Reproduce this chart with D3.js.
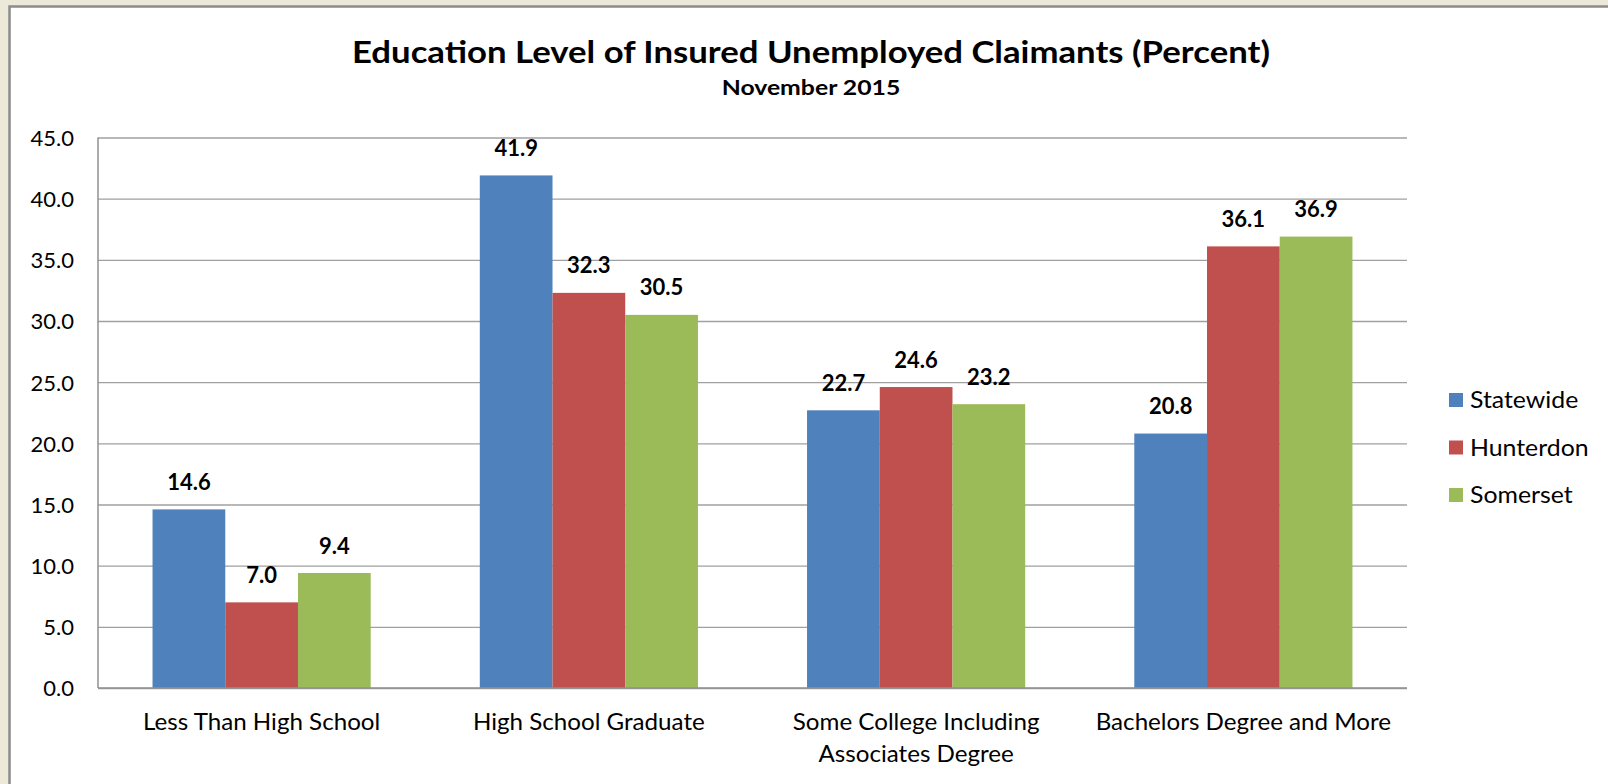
<!DOCTYPE html>
<html>
<head>
<meta charset="utf-8">
<script src="https://cdn.jsdelivr.net/npm/d3@7"></script>
<style>
  html, body { margin: 0; padding: 0; background: #ECE9D8; }
  svg { display: block; }
  text { font-family: Lato, "Open Sans", "Noto Sans", sans-serif; fill: #000; }
</style>
</head>
<body>
<script>
// Education level of insured unemployed claimants, November 2015 (percent)
const categories = [
  "Less Than High School",
  "High School Graduate",
  "Some College Including Associates Degree",
  "Bachelors Degree and More"
];
const seriesNames = ["Statewide", "Hunterdon", "Somerset"];
const statewide = [14.6, 41.9, 22.7, 20.8];
const hunterdon = [7.0, 32.3, 24.6, 36.1];
const somerset  = [9.4, 30.5, 23.2, 36.9];
const yTicks = [0, 5, 10, 15, 20, 25, 30, 35, 40, 45];
const seriesColors = ["#4F81BD", "#C0504D", "#9BBB59"];

const W = 1608, H = 784;
const plot = { left: 98, right: 1407, top: 137.5, bottom: 688 };

const series = [statewide, hunterdon, somerset];

const svg = d3.select("body").append("svg")
  .attr("width", W).attr("height", H);

// white chart sheet with its dark frame
svg.append("rect")
  .attr("x", 9.5).attr("y", 6.5)
  .attr("width", W + 10).attr("height", H + 10)
  .attr("fill", "#fff")
  .attr("stroke", "#8C8C8C").attr("stroke-width", 2.5);

// Places a text at (x, y) with a slight horizontal stretch for the wide lettering
function wideText(sel, x, y, sx) {
  return sel.append("text")
    .attr("transform", `translate(${x},${y}) scale(${sx},1)`);
}

// titles
const cx = 811;
wideText(svg, cx, 63, 1.12)
  .attr("text-anchor", "middle")
  .attr("font-size", 31).attr("font-weight", 700)
  .text("Education Level of Insured Unemployed Claimants (Percent)");
wideText(svg, cx, 95, 1.18)
  .attr("text-anchor", "middle")
  .attr("font-size", 21).attr("font-weight", 700)
  .text("November 2015");

// scales
const x0 = d3.scaleBand().domain(categories)
  .range([plot.left, plot.right]).paddingInner(0).paddingOuter(0);
// three bars per group with a 150% gap, split evenly on both sides
const barW = x0.bandwidth() / (seriesNames.length + 1.5);
const x1 = d3.scaleBand().domain(seriesNames)
  .range([0, barW * seriesNames.length]);
const groupOffset = (x0.bandwidth() - barW * seriesNames.length) / 2;

const y = d3.scaleLinear().domain([0, 45]).range([plot.bottom, plot.top]);

// gridlines and value axis labels
const yAxis = d3.axisLeft(y).tickValues(yTicks)
  .tickSize(-(plot.right - plot.left))
  .tickFormat(d => d.toFixed(1))
  .tickPadding(24);
const gy = svg.append("g")
  .attr("transform", `translate(${plot.left},0)`)
  .call(yAxis);
gy.select(".domain").remove();
gy.selectAll(".tick line").attr("stroke", "#A0A0A0").attr("stroke-width", 1.3);
gy.selectAll(".tick text")
  .attr("font-size", 22)
  .attr("font-family", "Lato, 'Open Sans', sans-serif")
  .attr("fill", "#000")
  .attr("dy", "0.36em");

// bars
const groups = svg.append("g").selectAll("g")
  .data(categories)
  .join("g")
  .attr("transform", d => `translate(${x0(d) + groupOffset},0)`);

const cells = (d, i) => series.map((s, k) => ({ name: seriesNames[k], value: s[i], k }));

groups.selectAll("rect")
  .data(cells)
  .join("rect")
  .attr("x", d => x1(d.name))
  .attr("y", d => y(d.value))
  .attr("width", x1.bandwidth())
  .attr("height", d => y(0) - y(d.value))
  .attr("fill", d => seriesColors[d.k]);

// value labels
groups.selectAll("text.val")
  .data(cells)
  .join("text")
  .attr("class", "val")
  .attr("x", d => x1(d.name) + x1.bandwidth() / 2)
  .attr("y", d => y(d.value) - 19.5)
  .attr("text-anchor", "middle")
  .attr("font-size", 22).attr("font-weight", 700)
  .text(d => d.value.toFixed(1));

// axis lines (left and bottom)
svg.append("line")
  .attr("x1", plot.left).attr("x2", plot.left)
  .attr("y1", plot.top).attr("y2", plot.bottom)
  .attr("stroke", "#909090").attr("stroke-width", 1.5);
svg.append("line")
  .attr("x1", plot.left).attr("x2", plot.right)
  .attr("y1", plot.bottom).attr("y2", plot.bottom)
  .attr("stroke", "#909090").attr("stroke-width", 1.5);

// category labels, wrapped to the width of a group
const catSx = 1.05;
categories.forEach(c => {
  const t = wideText(svg, x0(c) + x0.bandwidth() / 2, 730, catSx)
    .attr("text-anchor", "middle")
    .attr("font-size", 23);
  const words = c.split(" ");
  const maxW = x0.bandwidth() * 0.95 / catSx;
  let line = [];
  let tspan = t.append("tspan").attr("x", 0).attr("dy", 0);
  words.forEach(w => {
    line.push(w);
    tspan.text(line.join(" "));
    if (tspan.node().getComputedTextLength() > maxW && line.length > 1) {
      line.pop();
      tspan.text(line.join(" "));
      line = [w];
      tspan = t.append("tspan")
        .attr("x", 0)
        .attr("dy", 32)
        .text(w);
    }
  });
});

// legend
const legend = svg.append("g").selectAll("g")
  .data(seriesNames)
  .join("g")
  .attr("transform", (d, i) => `translate(1449,${400 + i * 47.5})`);
legend.append("rect")
  .attr("x", 0).attr("y", -7)
  .attr("width", 14).attr("height", 14)
  .attr("fill", (d, i) => seriesColors[i]);
legend.append("text")
  .attr("transform", "translate(21,0) scale(1.08,1)")
  .attr("dy", "0.36em")
  .attr("font-size", 23)
  .text(d => d);
</script>
</body>
</html>
